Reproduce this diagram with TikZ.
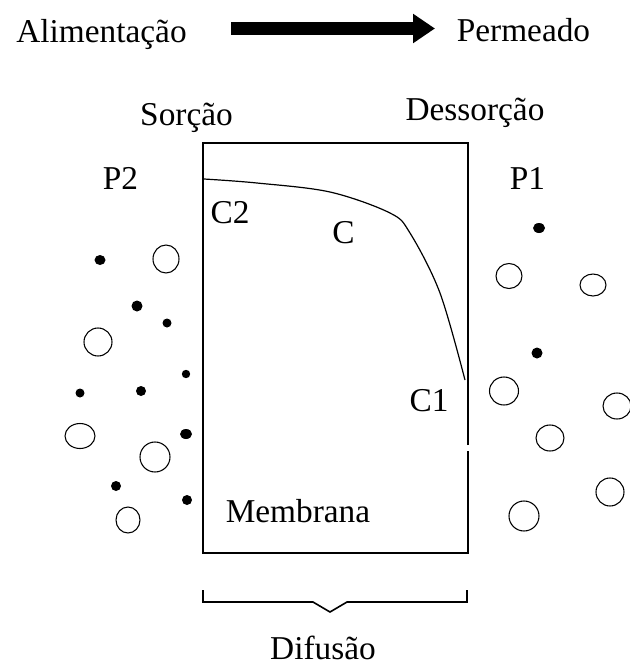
\documentclass[tikz,border=0pt]{standalone}
\usepackage{fontspec}
\setmainfont{Liberation Serif}
\usetikzlibrary{arrows.meta}
\begin{document}
\begin{tikzpicture}[x=0.75pt,y=-0.75pt,
  lbl/.style={anchor=base,inner sep=0pt,font=\fontsize{25}{30}\selectfont},
  boxline/.style={line width=1.2pt},
  curveline/.style={line width=0.9pt},
  gas/.style={draw,line width=0.8pt,fill=none},
  dot/.style={fill=black}]
\useasboundingbox (0,0) rectangle (630,668);
% top labels and flow arrow
\node[lbl] (alim) at (101.5,42) {Alimentação};
\node[lbl] (perm) at (523.5,41) {Permeado};
\coordinate (arrS) at (231,28.5);
\coordinate (arrE) at (435,28.5);
\draw[line width=9.75pt,-{Triangle[length=16.5pt,width=21pt]}] (arrS) -- (arrE);
% side labels
\node[lbl] (sorc) at (186.5,125) {Sorção};
\node[lbl] (dess) at (475,120) {Dessorção};
\node[lbl] (p2) at (120.5,189) {P2};
\node[lbl] (p1) at (527.5,189) {P1};
\node[lbl] (c2) at (230,223) {C2};
\node[lbl] (c) at (343.5,243) {C};
\node[lbl] (c1) at (429,411) {C1};
\node[lbl] (memb) at (298,522) {Membrana};
\node[lbl] (dif) at (323,659) {Difusão};
% membrane box
\draw[boxline] (468,445) -- (468,143) -- (203,143) -- (203,553) -- (468,553) -- (468,451);
% concentration profile
\draw[curveline] plot[smooth,tension=0.55] coordinates
  {(204,179) (257,183) (330,192) (390,213) (410,233) (440,293) (465,380)};
% brace
\draw[boxline] (203,590) -- (203,602) -- (313,602) -- (330,612) -- (347,602) -- (467,602) -- (467,590);
% left side molecules
\fill[dot] (100,260) ellipse (5.5 and 5);
\fill[dot] (137,306) circle (5.5);
\fill[dot] (167,323) circle (4.5);
\fill[dot] (186,374) circle (4.2);
\fill[dot] (80,393) circle (4.5);
\fill[dot] (141,391) circle (5);
\fill[dot] (186,434) ellipse (6 and 5);
\fill[dot] (116,486) circle (5);
\fill[dot] (187,500) circle (5);
\draw[gas] (166,259) ellipse (13 and 14);
\draw[gas] (98,342) ellipse (14 and 14);
\draw[gas] (80,436) ellipse (15 and 12.5);
\draw[gas] (155,457) ellipse (15 and 15);
\draw[gas] (128,520) ellipse (12 and 13);
% right side molecules
\fill[dot] (539,228) ellipse (6 and 5);
\fill[dot] (537,353) circle (5.5);
\draw[gas] (509,276) ellipse (13 and 12.5);
\draw[gas] (593,285) ellipse (13 and 11);
\draw[gas] (504,391) ellipse (14.5 and 14);
\draw[gas] (617,406) ellipse (14 and 13);
\draw[gas] (550,438) ellipse (14 and 13);
\draw[gas] (610,492) ellipse (14 and 14);
\draw[gas] (524,516) ellipse (15 and 15);
\end{tikzpicture}
\end{document}
